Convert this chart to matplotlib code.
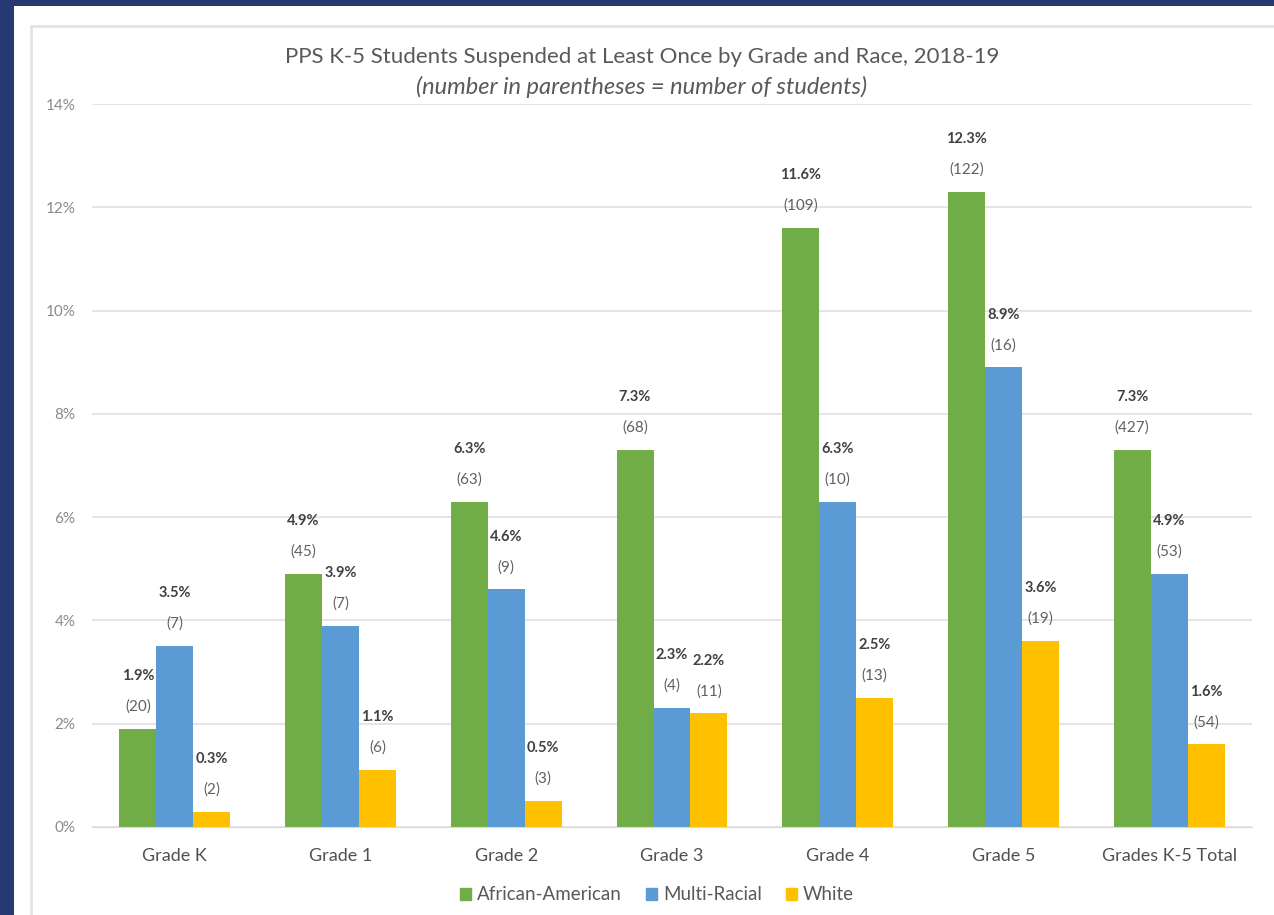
import numpy as np
import matplotlib.pyplot as plt
from matplotlib.patches import Rectangle, Patch

# suspension rates (%) and student counts by grade
grades = ["Grade K", "Grade 1", "Grade 2", "Grade 3", "Grade 4", "Grade 5", "Grades K-5 Total"]
groups = ["African-American", "Multi-Racial", "White"]
african_american = [1.9, 4.9, 6.3, 7.3, 11.6, 12.3, 7.3]
multi_racial = [3.5, 3.9, 4.6, 2.3, 6.3, 8.9, 4.9]
white = [0.3, 1.1, 0.5, 2.2, 2.5, 3.6, 1.6]
aa_counts = [20, 45, 63, 68, 109, 122, 427]
mr_counts = [7, 7, 9, 4, 10, 16, 53]
white_counts = [2, 6, 3, 11, 13, 19, 54]
yticks = [0, 2, 4, 6, 8, 10, 12, 14]

colors = ["#70AD47", "#5B9BD5", "#FFC000"]
navy = "#253a73"
W, H = 1274, 915

plt.rcParams['font.family'] = ['Lato', 'DejaVu Sans']

fig = plt.figure(figsize=(W / 100, H / 100), dpi=100, facecolor=navy)
# white card and its faint inner frame
fig.add_artist(Rectangle((14 / W, 0), 1, 1 - 6 / H, transform=fig.transFigure,
                         facecolor="white", edgecolor="none", zorder=0))
fig.add_artist(Rectangle((31 / W, -0.1), 1, 1.1 - 26 / H, transform=fig.transFigure,
                         facecolor="none", edgecolor="#e4e4e4", lw=2, zorder=0))

ax = fig.add_axes([92 / W, 88 / H, 1160 / W, 723 / H])
ax.set_facecolor("none")

x = np.arange(len(grades))
bw = 0.223
series = [african_american, multi_racial, white]
counts = [aa_counts, mr_counts, white_counts]
for i, (vals, cnts) in enumerate(zip(series, counts)):
    pos = x + (i - 1) * bw
    ax.bar(pos, vals, width=bw, color=colors[i], zorder=2)
    for px, v, c in zip(pos, vals, cnts):
        ax.annotate(f"({c})", (px, v), xytext=(0, 16), textcoords="offset points",
                    ha="center", va="center", fontsize=11, color="#606060")
        ax.annotate(f"{v:.1f}%", (px, v), xytext=(0, 38), textcoords="offset points",
                    ha="center", va="center", fontsize=10.5, fontweight="bold",
                    color="#404040")

ax.set_xlim(-0.5, len(grades) - 0.5)
ax.set_ylim(0, 14)
ax.set_yticks(yticks)
ax.set_yticklabels([f"{t}%" for t in yticks], fontsize=11, color="#8a8a8a")
ax.set_xticks(x)
ax.set_xticklabels(grades, fontsize=13, color="#505050")
ax.tick_params(length=0)
ax.tick_params(axis="x", pad=15)
ax.tick_params(axis="y", pad=12)
ax.grid(axis="y", color="#e0e0e0", lw=1.2, zorder=0)
for s in ["top", "right", "left"]:
    ax.spines[s].set_visible(False)
ax.spines["bottom"].set_color("#d9d9d9")

fig.text(642 / W, 1 - 57 / H,
         "PPS K-5 Students Suspended at Least Once by Grade and Race, 2018-19",
         ha="center", va="center", fontsize=16, color="#595959")
fig.text(642 / W, 1 - 87 / H, "(number in parentheses = number of students)",
         ha="center", va="center", fontsize=17, style="italic", color="#595959")

handles = [Patch(color=c, label=g) for c, g in zip(colors, groups)]
fig.legend(handles=handles, loc="center", bbox_to_anchor=(657 / W, 1 - 895 / H),
           ncol=3, frameon=False, fontsize=13.5, labelcolor="#595959",
           handlelength=0.6, handleheight=0.6, handletextpad=0.3, columnspacing=1.3)

fig.savefig("out.png", dpi=100, facecolor=navy)
